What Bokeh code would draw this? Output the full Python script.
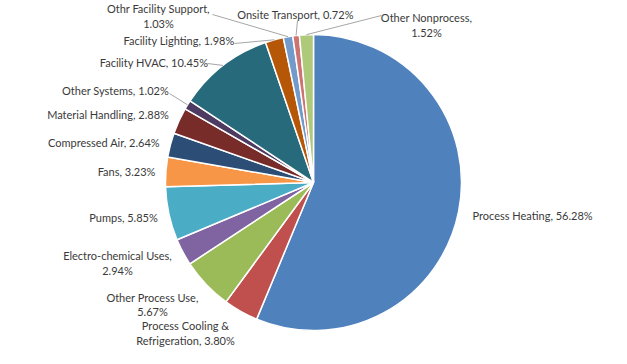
import math
from bokeh.plotting import figure
from bokeh.models import ColumnDataSource
from bokeh.core.properties import value
from bokeh.embed import file_html
from bokeh.resources import INLINE

# ---- data ----
categories = [
    "Process Heating", "Process Cooling & Refrigeration", "Other Process Use",
    "Electro-chemical Uses", "Pumps", "Fans", "Compressed Air", "Material Handling",
    "Other Systems", "Facility HVAC", "Facility Lighting", "Othr Facility Support",
    "Onsite Transport", "Other Nonprocess",
]
shares = [56.28, 3.80, 5.67, 2.94, 5.85, 3.23, 2.64, 2.88, 1.02, 10.45, 1.98, 1.03, 0.72, 1.52]

# ---- style ----
colors = ["#4F81BD", "#C0504D", "#9BBB59", "#8064A2", "#4BACC6", "#F79646",
          "#2C4D75", "#772C2A", "#4D3B62", "#276A7C", "#B65708",
          "#729ACA", "#CD7371", "#AFC97A"]

W, H = 627, 364
CX, CY, R = 313, 182, 148          # image coords (y down)
FONT = "Lato"
FS = "11px"
TXT = "#3a3a3a"
LINE_H = 14.5

# label layout: (x, y) in image coords, align, break mode, leader start (or None)
layout = [
    (472, 215, "left", None, None),
    (185, 332.5, "center", "amp", None),
    (152, 304, "center", "comma", None),
    (117, 262.5, "center", "comma", None),
    (123, 217, "center", None, None),
    (126, 171, "center", None, None),
    (103.5, 142, "center", None, None),
    (107.5, 114, "center", None, None),
    (115, 90, "center", None, (169, 93)),
    (153.5, 62, "center", None, (207, 63)),
    (178.5, 40, "center", None, (234, 43)),
    (158, 15.5, "center", "comma", (212, 14)),
    (295, 14, "center", None, (297, 20)),
    (426, 24.5, "center", "comma", (381, 15)),
]

def fy(y):
    return H - y

total = sum(shares)
starts, ends, mids = [], [], []
cum = 0.0
for s in shares:
    a0 = math.pi / 2 - cum / total * 2 * math.pi
    cum += s
    a1 = math.pi / 2 - cum / total * 2 * math.pi
    starts.append(a0)
    ends.append(a1)
    mids.append((a0 + a1) / 2)

p = figure(width=W, height=H, x_range=(0, W), y_range=(0, H),
           x_axis_type=None, y_axis_type=None, toolbar_location=None,
           output_backend="svg", min_border=0)
p.grid.visible = False
p.outline_line_color = None

src = ColumnDataSource(dict(cat=categories, share=shares, start=starts, end=ends, color=colors))
p.wedge(x=CX, y=fy(CY), radius=R, start_angle="start", end_angle="end",
        direction="clock", fill_color="color", line_color="white", line_width=1.5, source=src)

# leader lines
lx0, ly0, lx1, ly1 = [], [], [], []
for i, lay in enumerate(layout):
    if lay[4] is None:
        continue
    sx, sy = lay[4]
    ex = CX + R * math.cos(mids[i])
    ey = fy(CY) + R * math.sin(mids[i])
    lx0.append(sx); ly0.append(fy(sy)); lx1.append(ex); ly1.append(ey)
p.segment(x0=lx0, y0=ly0, x1=lx1, y1=ly1, line_color="#A6A6A6", line_width=1)

# labels (one text glyph per line so each line is centred on its own)
for i, (c, v) in enumerate(zip(categories, shares)):
    x, y, align, brk, _ = layout[i]
    t = f"{c}, {v:.2f}%"
    if brk == "comma":
        t = f"{c},\n{v:.2f}%"
    elif brk == "amp":
        t = t.replace("& ", "&\n", 1)
    lines = t.split("\n")
    n = len(lines)
    for k, line in enumerate(lines):
        yy = y + (k - (n - 1) / 2) * LINE_H
        p.text(x=[x], y=[fy(yy)], text=[line], text_align=align, text_baseline="middle",
               text_font=value(FONT), text_font_size=FS, text_color=TXT)

open("out.html", "w").write(file_html(p, INLINE))
